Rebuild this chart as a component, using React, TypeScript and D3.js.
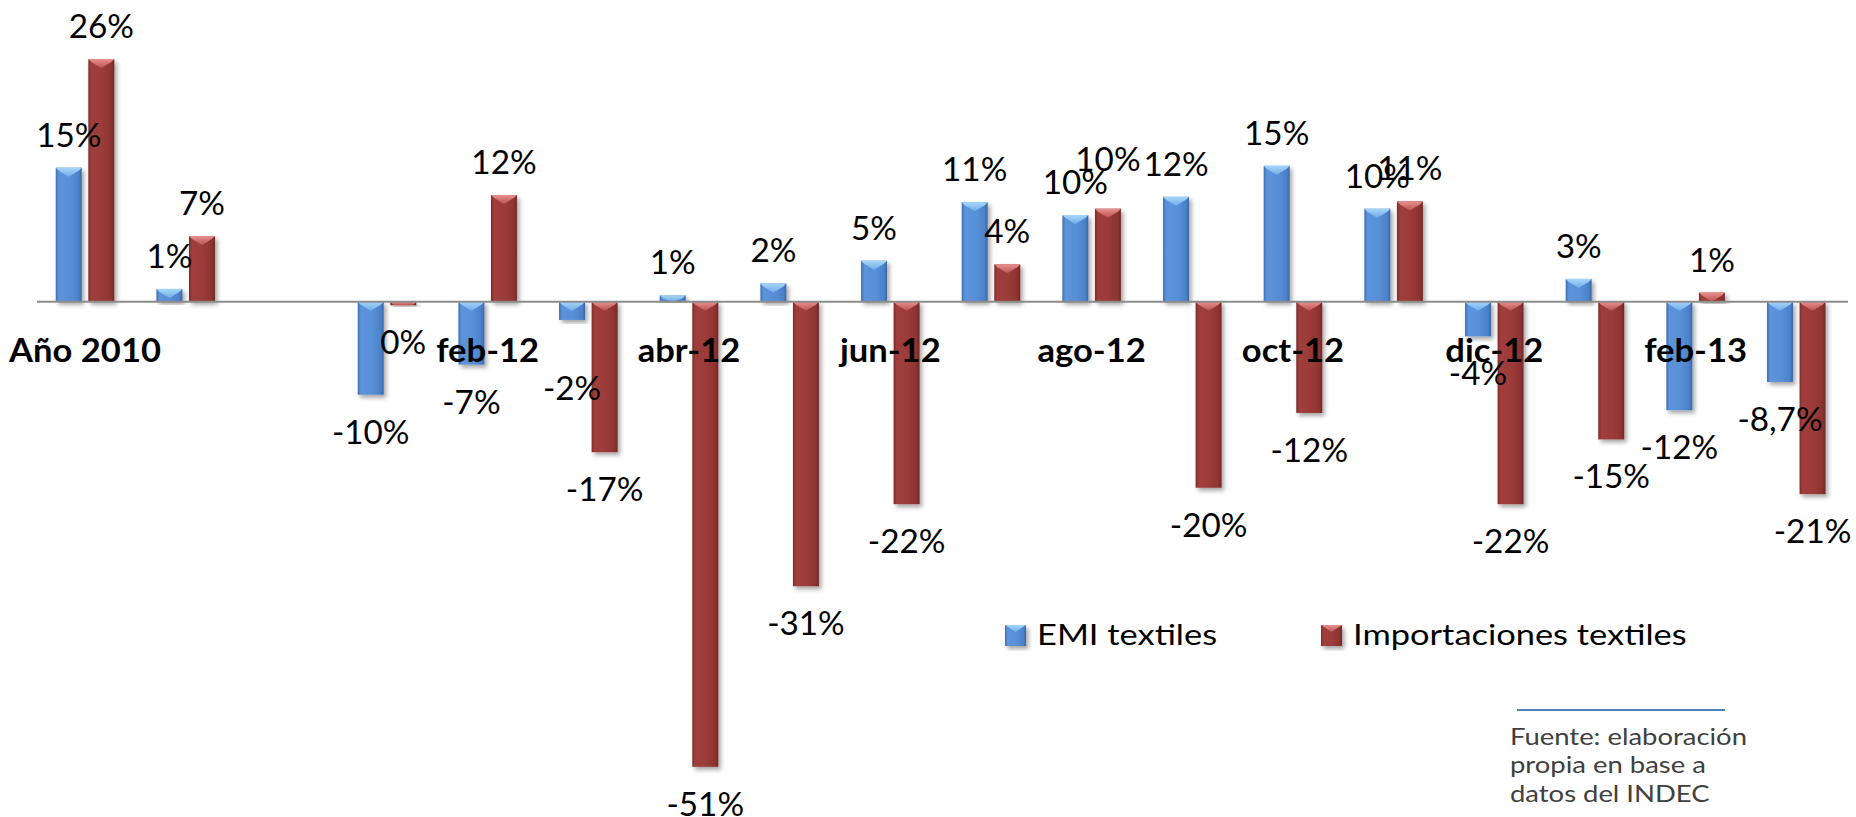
import React from "react";
import * as d3 from "d3";

// ---------- DATA ----------
const categories = [
  "Año 2010", "Año 2011", "", "ene-12", "feb-12", "mar-12", "abr-12", "may-12", "jun-12",
  "jul-12", "ago-12", "sep-12", "oct-12", "nov-12", "dic-12", "ene-13", "feb-13", "mar-13",
];
const emiValues: (number | null)[] = [
  14.7, 1.4, null, -10.2, -6.9, -2.0, 0.7, 2.0, 4.5, 10.9, 9.5, 11.5, 14.9, 10.2, -3.8, 2.5, -11.9, -8.8,
];
const impValues: (number | null)[] = [
  26.6, 7.2, null, -0.4, 11.7, -16.5, -51.0, -31.2, -22.2, 4.1, 10.2, -20.4, -12.2, 11.0, -22.2, -15.1, 1.0, -21.1,
];
const emiLabels = [
  "15%", "1%", "", "-10%", "-7%", "-2%", "1%", "2%", "5%", "11%", "10%", "12%", "15%", "10%", "-4%", "3%", "-12%", "-8,7%",
];
const impLabels = [
  "26%", "7%", "", "0%", "12%", "-17%", "-51%", "-31%", "-22%", "4%", "10%", "-20%", "-12%", "11%", "-22%", "-15%", "1%", "-21%",
];
const seriesNames = ["EMI textiles", "Importaciones textiles"];
const sourceLines = ["Fuente: elaboración", "propia en base a", "datos del INDEC"];
const yDomain: [number, number] = [-55, 30];

// ---------- LAYOUT / STYLE ----------
const W = 1856;
const H = 817;
const FONT = "Lato, 'Open Sans', sans-serif";

const x = d3.scaleBand<string>().domain(categories.map((c, i) => i + "")).range([34.7, 1846.6]).padding(0);
const y = d3.scaleLinear().domain(yDomain).range([301.7 + 55 * 9.12, 301.7 - 30 * 9.12]);

const labelNudge: Record<string, number> = { "5-0": 31, "10-1": -17 };

const series = [
  { key: "emi", values: emiValues, labels: emiLabels, grad: "gBlue", bev: "bBlue" },
  { key: "imp", values: impValues, labels: impLabels, grad: "gRed", bev: "bRed" },
];

function SText(props: {
  x: number; y: number; sx: number; size: number; weight?: number | string; fill?: string;
  anchor?: "start" | "middle" | "end"; children: React.ReactNode;
}) {
  const { x: tx, y: ty, sx, size, weight = 400, fill = "#000", anchor = "middle", children } = props;
  return (
    <text
      transform={`translate(${tx},${ty}) scale(${sx},1)`}
      fontFamily={FONT}
      fontSize={size}
      fontWeight={weight}
      fill={fill}
      textAnchor={anchor}
    >
      {children}
    </text>
  );
}

export default function App() {
  const step = x.step();
  const barW = step * 0.258;
  const gap = barW * 0.254;
  const y0 = y(0);

  const bars: React.ReactNode[] = [];
  const dataLabels: React.ReactNode[] = [];

  categories.forEach((c, i) => {
    const center = (x(i + "") as number) + step / 2;
    series.forEach((s, si) => {
      const v = s.values[i];
      if (v === null) return;
      const bx = si === 0 ? center - gap / 2 - barW : center + gap / 2;
      const yv = y(v);
      const top = Math.min(y0, yv);
      const h = Math.abs(yv - y0);
      const ch = Math.min(9, h);
      bars.push(
        <g key={`b-${i}-${si}`} filter="url(#shadow)">
          <rect x={bx} y={top} width={barW} height={h} fill={`url(#${s.grad})`} />
          <polygon
            points={`${bx},${top} ${bx + barW},${top} ${bx + barW - 3},${top + Math.min(3, ch)} ${bx + barW / 2},${top + ch} ${bx + 3},${top + Math.min(3, ch)}`}
            fill={`url(#${s.bev})`}
          />
        </g>
      );
      const nudge = labelNudge[`${i}-${si}`] || 0;
      const ly = (v >= 0 ? yv - 21 : yv + 49) + nudge;
      dataLabels.push(
        <SText key={`l-${i}-${si}`} x={bx + barW / 2} y={ly} sx={1.04} size={32}>
          {s.labels[i]}
        </SText>
      );
    });
  });

  const catLabels = categories.map((c, i) =>
    i % 2 === 0 && c ? (
      <SText key={`c-${i}`} x={(x(i + "") as number) + step / 2} y={362} sx={1.08} size={32} weight={700}>
        {c}
      </SText>
    ) : null
  );

  const legendItems = [
    { sq: 1005, tx: 1037, name: seriesNames[0], grad: "gBlue", bev: "bBlue" },
    { sq: 1321, tx: 1353, name: seriesNames[1], grad: "gRed", bev: "bRed" },
  ];

  return (
    <svg
      width={W}
      height={H}
      style={{ position: "absolute", left: 0, top: 0, background: "#fff" }}
    >
      <defs>
        <linearGradient id="gBlue" x1="0" x2="1" y1="0" y2="0">
          <stop offset="0" stopColor="#3F6FB0" />
          <stop offset="0.12" stopColor="#5C93DA" />
          <stop offset="0.55" stopColor="#5890D8" />
          <stop offset="0.88" stopColor="#4B81C8" />
          <stop offset="1" stopColor="#3A66A3" />
        </linearGradient>
        <linearGradient id="gRed" x1="0" x2="1" y1="0" y2="0">
          <stop offset="0" stopColor="#7E2C2A" />
          <stop offset="0.12" stopColor="#A03E3C" />
          <stop offset="0.55" stopColor="#9B3B39" />
          <stop offset="0.88" stopColor="#8C3331" />
          <stop offset="1" stopColor="#732725" />
        </linearGradient>
        <linearGradient id="bBlue" x1="0" x2="0" y1="0" y2="1">
          <stop offset="0" stopColor="#A6D6FA" />
          <stop offset="1" stopColor="#72ADEA" />
        </linearGradient>
        <linearGradient id="bRed" x1="0" x2="0" y1="0" y2="1">
          <stop offset="0" stopColor="#E8908E" />
          <stop offset="1" stopColor="#BB5452" />
        </linearGradient>
        <filter id="shadow" x="-30%" y="-10%" width="170%" height="130%">
          <feDropShadow dx="2.5" dy="3" stdDeviation="2.2" floodColor="#000" floodOpacity="0.35" />
        </filter>
      </defs>

      {bars}

      <line x1={37} x2={1848} y1={y0} y2={y0} stroke="#8C8C8C" strokeWidth={2} />

      {catLabels}
      {dataLabels}

      {legendItems.map((it, k) => (
        <g key={`lg-${k}`}>
          <rect x={it.sq} y={625} width={21} height={21} fill={`url(#${it.grad})`} filter="url(#shadow)" />
          <polygon
            points={`${it.sq},625 ${it.sq + 21},625 ${it.sq + 10.5},632`}
            fill={`url(#${it.bev})`}
          />
          <SText x={it.tx} y={645} sx={1.23} size={28} anchor="start">
            {it.name}
          </SText>
        </g>
      ))}

      <line x1={1517} x2={1725} y1={710} y2={710} stroke="#4F81BD" strokeWidth={2} />
      {sourceLines.map((t, k) => (
        <SText key={`s-${k}`} x={1510} y={745 + k * 28.3} sx={1.22} size={22.5} fill="#404040" anchor="start">
          {t}
        </SText>
      ))}
    </svg>
  );
}
